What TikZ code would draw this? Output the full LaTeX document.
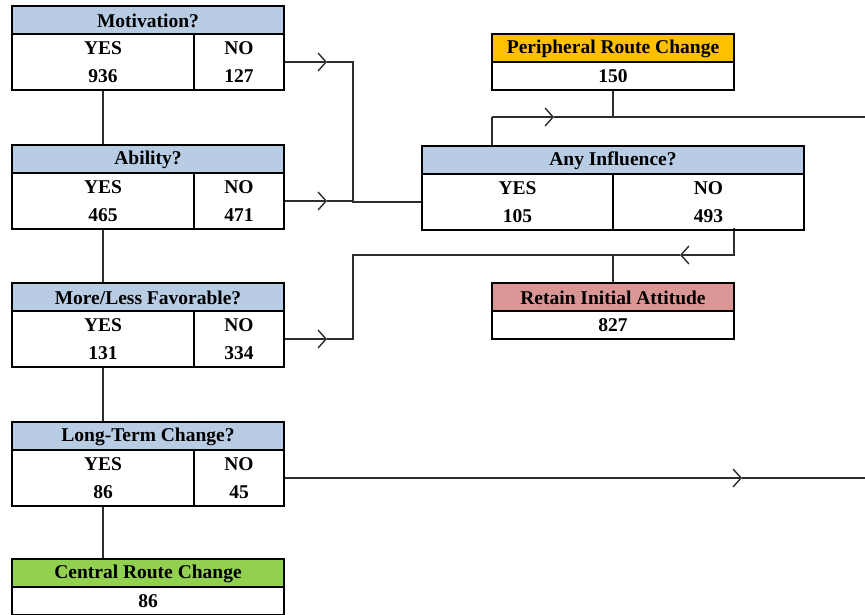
\documentclass[tikz,border=0pt]{standalone}
\usepackage{fontspec}
\setmainfont{Liberation Serif}
\usetikzlibrary{arrows.meta,calc}
\definecolor{hdrblue}{RGB}{184,204,228}
\definecolor{hdrorange}{RGB}{255,192,0}
\definecolor{hdrred}{RGB}{218,150,148}
\definecolor{hdrgreen}{RGB}{146,208,80}
\definecolor{connc}{RGB}{45,45,45}
\tikzset{
  frame/.style={draw=black, line width=2.2pt, inner sep=0pt, outer sep=0pt, anchor=north west},
  hdr/.style={draw=black, line width=2.2pt},
  conn/.style={draw=connc, line width=1.4pt},
  tip/.style={conn, -{Straight Barb[length=8pt,width=18pt,line width=1.4pt]}},
  lbl/.style={inner sep=0pt, text=black},
}
% decision box: name, left, top, right, divider x, title, yes value, no value
\newcommand\qbox[8]{%
  \draw[hdr, fill=hdrblue] (#2,#3) rectangle (#4,#3+28);
  \node[frame, minimum width={#4pt-#2pt}, minimum height=84pt] (#1) at (#2,#3) {};
  \draw[hdr] (#5,#3+28) -- (#5,#3+84);
  \node[lbl] (#1-t) at ({(#2+#4)/2},#3+15) {#6};
  \node[lbl] (#1-yl) at ({(#2+#5)/2},#3+42) {YES};
  \node[lbl] (#1-nl) at ({(#5+#4)/2},#3+42) {NO};
  \node[lbl] (#1-yv) at ({(#2+#5)/2},#3+70) {#7};
  \node[lbl] (#1-nv) at ({(#5+#4)/2},#3+70) {#8};
}
% result box: name, left, top, right, colour, title, value
\newcommand\rbox[7]{%
  \draw[hdr, fill=#5] (#2,#3) rectangle (#4,#3+28);
  \node[frame, minimum width={#4pt-#2pt}, minimum height=56pt] (#1) at (#2,#3) {};
  \node[lbl] (#1-t) at ({(#2+#4)/2},#3+15) {#6};
  \node[lbl] (#1-v) at ({(#2+#4)/2},#3+42) {#7};
}
\begin{document}
\begin{tikzpicture}[x=1pt,y=-1pt,font=\bfseries\fontsize{19.5}{22}\selectfont]
\useasboundingbox (0,0) rectangle (865,615);
\fill[white] (0,0) rectangle (865,615);

% connectors first (under the boxes)
\coordinate (mno) at (284,62);
\coordinate (ano) at (284,201);
\coordinate (fno) at (284,339);
\coordinate (lno) at (284,478);
\coordinate (j1) at (353,62);
\coordinate (j2) at (353,201);
\coordinate (j3) at (353,339);
\coordinate (j4) at (353,255);
\coordinate (ain) at (422,202);
\coordinate (aout) at (734,228);
\coordinate (acorner) at (734,255);
\coordinate (rj) at (613,255);
\coordinate (ayes) at (492,146);
\coordinate (ptop) at (492,117);
\coordinate (pj) at (613,117);
\coordinate (pright) at (865,117);
\coordinate (lright) at (865,478);

% left column vertical links
\draw[conn] (103,90) -- (103,145);
\draw[conn] (103,229) -- (103,283);
\draw[conn] (103,367) -- (103,422);
\draw[conn] (103,505) -- (103,559);

% Motivation NO
\draw[tip] (mno) -- (327,62);
\draw[conn] (327,62) -- (j1) -- (j2);
% Ability NO
\draw[tip] (ano) -- (327,201);
\draw[conn] (327,201) -- (j2) -- (353,202) -- (ain);
% More/Less NO
\draw[tip] (fno) -- (327,339);
\draw[conn] (327,339) -- (j3) -- (j4) -- (rj);
% Any Influence NO
\draw[conn] (aout) -- (acorner) -- (694,255);
\draw[tip] (acorner) -- (680,255);
\draw[conn] (680,255) -- (rj) -- (613,283);
% Any Influence YES
\draw[conn] (ayes) -- (ptop);
\draw[tip] (ptop) -- (554,117);
\draw[conn] (554,117) -- (pj) -- (pright);
\draw[conn] (613,90) -- (pj);
% Long-Term NO
\draw[tip] (lno) -- (742,478);
\draw[conn] (742,478) -- (lright);

% boxes
\qbox{mot}{12}{6}{284}{194}{Motivation?}{936}{127}
\qbox{abi}{12}{145}{284}{194}{Ability?}{465}{471}
\qbox{fav}{12}{283}{284}{194}{More/Less Favorable?}{131}{334}
\qbox{ltc}{12}{422}{284}{194}{Long-Term Change?}{86}{45}
\qbox{any}{422}{146}{804}{613}{Any Influence?}{105}{493}
\rbox{per}{492}{34}{734}{hdrorange}{Peripheral Route Change}{150}
\rbox{ret}{492}{283}{734}{hdrred}{Retain Initial Attitude}{827}
\rbox{cen}{12}{559}{284}{hdrgreen}{Central Route Change}{86}
\end{tikzpicture}
\end{document}
